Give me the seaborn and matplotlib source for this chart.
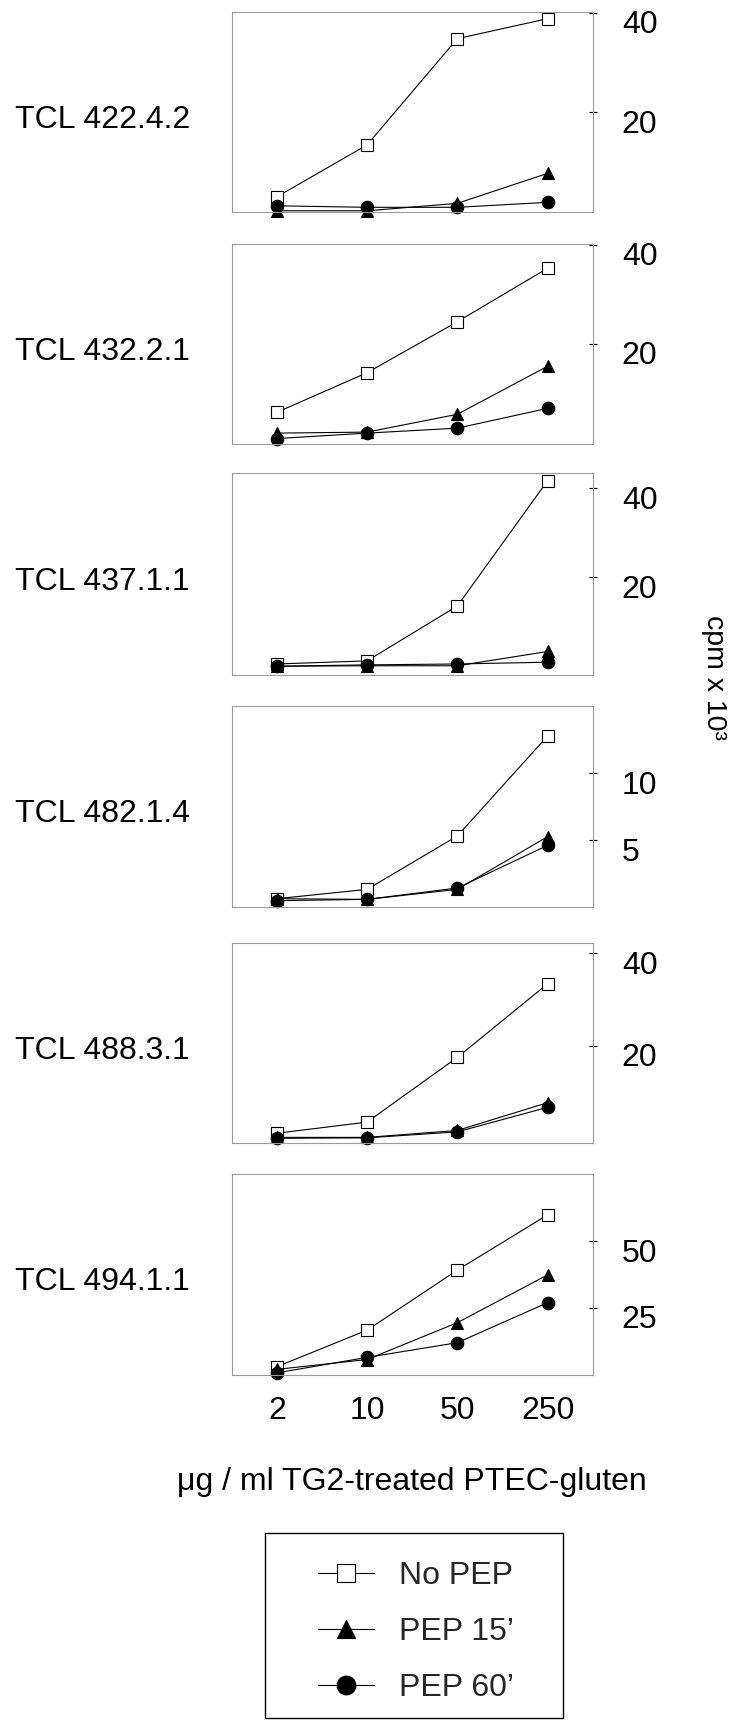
import matplotlib
matplotlib.use("Agg")
import matplotlib.pyplot as plt
import seaborn as sns
import pandas as pd
from matplotlib.transforms import ScaledTranslation
from matplotlib.patches import Rectangle

# ---------------- data ----------------
concentrations = ["2", "10", "50", "250"]
cell_lines = ["TCL 422.4.2", "TCL 432.2.1", "TCL 437.1.1",
              "TCL 482.1.4", "TCL 488.3.1", "TCL 494.1.1"]
series_names = ["No PEP", "PEP 15\u2019", "PEP 60\u2019"]

no_pep = [
    [3.1, 13.5, 34.8, 38.8],
    [6.2, 14.2, 24.5, 35.3],
    [0.6, 1.3, 13.6, 41.7],
    [0.6, 1.3, 5.3, 12.8],
    [1.1, 3.5, 17.5, 33.4],
    [2.9, 16.6, 39.1, 59.8],
]
pep_15 = [
    [0.3, 0.3, 1.8, 7.8],
    [2.0, 2.2, 5.8, 15.5],
    [0.1, 0.2, 0.2, 3.4],
    [0.6, 0.55, 1.3, 5.25],
    [0.2, 0.2, 1.7, 7.7],
    [1.9, 5.6, 19.4, 37.3],
]
pep_60 = [
    [1.3, 1.0, 1.0, 2.0],
    [0.9, 2.0, 3.0, 7.0],
    [0.1, 0.4, 0.6, 1.0],
    [0.45, 0.55, 1.4, 4.6],
    [0.0, 0.1, 1.4, 6.7],
    [0.6, 6.4, 11.9, 26.9],
]
y_ticks = [[20, 40], [20, 40], [20, 40], [5, 10], [20, 40], [25, 50]]

# ---------------- layout / style ----------------
y_limits = [(0, 40.2), (-0.2, 40.2), (-1.87, 43.36), (0, 15.05), (-0.95, 42.3), (-0.2, 75.1)]
panel_px = [(11.7, 212.3), (244, 444), (473.3, 675), (706, 906.7), (942.7, 1142.7), (1174, 1375)]
W, H = 735, 1720
AX_LEFT, AX_RIGHT = 231.7, 592.7

sns.set_theme(style="white")
plt.rcParams["font.family"] = ["Liberation Sans", "DejaVu Sans"]

fig = plt.figure(figsize=(W / 100, H / 100), dpi=100)
fig.patch.set_facecolor("white")

styles = [
    dict(marker="s", markerfacecolor="white"),
    dict(marker="^", markerfacecolor="black"),
    dict(marker="o", markerfacecolor="black"),
]
FS = 23
axes = []
for i, (top, bot) in enumerate(panel_px):
    ax = fig.add_axes([AX_LEFT / W, 1 - bot / H, (AX_RIGHT - AX_LEFT) / W, (bot - top) / H])
    axes.append(ax)
    pos = list(range(len(concentrations)))
    for vals, name, st in zip([no_pep[i], pep_15[i], pep_60[i]], series_names, styles):
        df = pd.DataFrame({"pos": pos, "cpm": vals})
        sns.lineplot(data=df, x="pos", y="cpm", ax=ax, color="black", linewidth=0.8,
                     markersize=9, markeredgecolor="black", markeredgewidth=0.8,
                     clip_on=False, label=name, legend=False, errorbar=None, **st)
    ax.set_xlim(-0.5, 3.5)
    ax.set_ylim(*y_limits[i])
    ax.set_xlabel("")
    ax.set_ylabel("")
    ax.grid(False)
    for sp in ax.spines.values():
        sp.set_color("#9a9a9a")
        sp.set_linewidth(0.8)
    ax.set_yticks(y_ticks[i])
    ax.set_yticklabels([str(t) for t in y_ticks[i]])
    ax.tick_params(axis="y", which="major", left=False, right=True, labelleft=False,
                   labelright=True, direction="inout", length=6, width=0.8,
                   color="black", labelsize=FS, pad=18, labelcolor="black")
    ax.set_xticks(pos)
    if i == len(panel_px) - 1:
        ax.set_xticklabels(concentrations)
    else:
        ax.set_xticklabels([])
    ax.tick_params(axis="x", length=0, pad=15, labelsize=FS, labelcolor="black")
    # labels sit slightly below their tick marks in the original
    off = ScaledTranslation(0, -0.09, fig.dpi_scale_trans)
    for lab in ax.get_yticklabels():
        lab.set_transform(lab.get_transform() + off)
    ax.text((15 - AX_LEFT) / (AX_RIGHT - AX_LEFT), 0.5 - 8 / (bot - top), cell_lines[i],
            transform=ax.transAxes, ha="left", va="center", fontsize=FS, color="black")

# x-axis label
last = axes[-1]
last.set_xlabel("\u03bcg / ml TG2-treated PTEC-gluten", fontsize=FS, color="black")
last.xaxis.set_label_coords(0.5, -(1490 - 1375) / (1375 - 1174))
last.xaxis.label.set_va("baseline")

# y label
fig.text(714 / W, 1 - 677 / H, "cpm x 10\u00b3", rotation=270, ha="center", va="center",
         fontsize=20.5, color="black")

# legend
handles = axes[0].get_lines()[:3]
fig.legend(handles, series_names, loc="upper left",
           bbox_to_anchor=(318 / W, 1 - 1561 / H), bbox_transform=fig.transFigure,
           frameon=False, fontsize=FS, handlelength=1.75, handletextpad=0.8,
           labelspacing=0.82, borderpad=0, borderaxespad=0, markerscale=1.5)
fig.add_artist(Rectangle((265 / W, 1 - 1718 / H), (563 - 265) / W, (1718 - 1533) / H,
                         transform=fig.transFigure, fill=False, lw=1.0, ec="black"))

fig.savefig("out.png", dpi=100, facecolor="white")
